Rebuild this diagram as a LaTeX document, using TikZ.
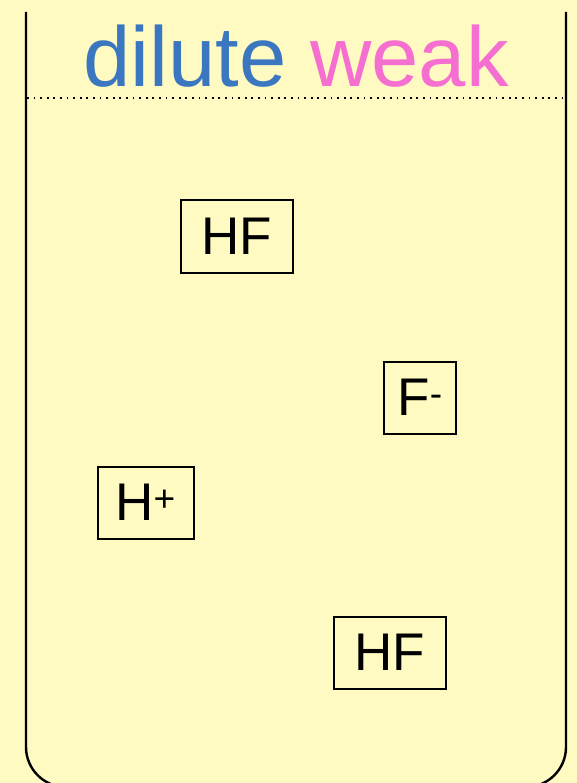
\documentclass[tikz,border=0pt]{standalone}
\usepackage{fontspec}
\setmainfont{Liberation Sans}
\usepackage{tikz}
\usepackage{xcolor}
\definecolor{paper}{RGB}{255,249,194}
\definecolor{diluteblue}{RGB}{58,119,192}
\definecolor{weakpink}{RGB}{245,111,209}
\tikzset{
  ion/.style={draw=black, line width=2pt, minimum height=72pt, inner xsep=0pt,
    font=\fontsize{53}{60}\selectfont},
}

\begin{document}
\begin{tikzpicture}[x=1pt,y=1pt,yscale=-1,xscale=1]
                    % background
                    \fill [paper] (0,0) rectangle (577,783);
                    \useasboundingbox (0,0) rectangle (577,783);
                    %Beaker [id:beaker]
                    \draw [line width=2.4pt, rounded corners=40pt] (26,12) -- (26,787) -- (566,787) -- (566,12);
                    %Dotted surface [id:surface]
                    \coordinate (sl) at (27,98);
                    \coordinate (sr) at (564,98);
                    \draw [line width=1.8pt, dash pattern={on 1.8pt off 4.8pt}] (sl) -- (sr);

                    % Text Node
                    \node (title) at (296,87) [anchor=base, inner sep=0pt, font=\fontsize{85}{100}\selectfont]
                      {\textcolor{diluteblue}{dilute} \textcolor{weakpink}{weak}};
                    % Text Node
                    \node (hfa) at (237,236.5) [ion, minimum width=112pt] {HF\hspace{4pt}};
                    % Text Node
                    \node (fminus) at (420,397.5) [ion, minimum width=72pt] {F\textsuperscript{-}};
                    % Text Node
                    \node (hplus) at (145.5,502.5) [ion, minimum width=96pt] {H\textsuperscript{+}};
                    % Text Node
                    \node (hfb) at (389.5,652.5) [ion, minimum width=112pt] {HF\hspace{4pt}};
                \end{tikzpicture}
\end{document}
